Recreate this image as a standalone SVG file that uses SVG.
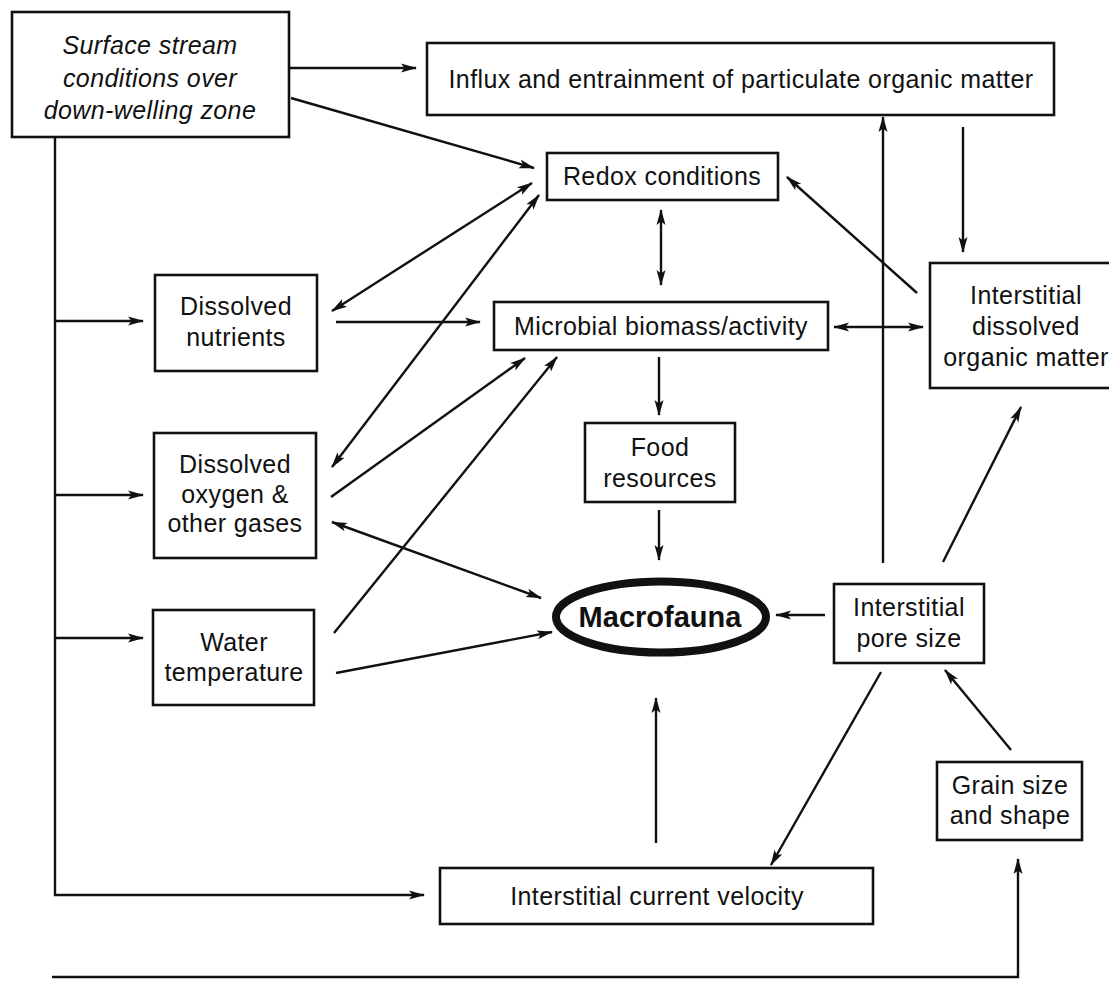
<svg xmlns="http://www.w3.org/2000/svg" width="1109" height="986" viewBox="0 0 1109 986">
<style>
.box{fill:#fff;stroke:#111;stroke-width:2.6}
.t{font-family:"Liberation Sans",Arial,sans-serif;font-size:25px;letter-spacing:0.4px;fill:#111;text-anchor:middle}
.it{font-style:italic}
.b{font-weight:bold;font-size:29px;letter-spacing:0}
.c{fill:none;stroke:#111;stroke-width:2.4}
.a{marker-end:url(#ah)}
.d{marker-start:url(#ah);marker-end:url(#ah)}
</style>
<defs>
<marker id="ah" markerUnits="userSpaceOnUse" markerWidth="18" markerHeight="12" refX="15" refY="5.5" orient="auto-start-reverse">
<path d="M0,1 L16,5.5 L0,10 L3.5,5.5 z" fill="#111"/>
</marker>
</defs>
<rect width="1109" height="986" fill="#fff"/>
<g id="connectors">
<path class="c a" d="M289,68 L416,68"/>
<path class="c a" d="M291,98 L534,168"/>
<path class="c a" d="M55,137 L55,895 L424,895"/>
<path class="c a" d="M55,321 L143,321"/>
<path class="c a" d="M55,495 L143,495"/>
<path class="c a" d="M55,638 L143,638"/>
<path class="c a" d="M336,322 L480,322"/>
<path class="c d" d="M532,183 L332,311"/>
<path class="c d" d="M539,195 L332,467"/>
<path class="c a" d="M331,497 L525,358"/>
<path class="c a" d="M334,633 L557,357"/>
<path class="c d" d="M332,522 L541,598"/>
<path class="c a" d="M336,673 L552,632"/>
<path class="c d" d="M661,210 L661,285"/>
<path class="c d" d="M834,327 L923,327"/>
<path class="c a" d="M963,127 L963,252"/>
<path class="c a" d="M917,293 L787,177"/>
<path class="c a" d="M883,563 L883,117"/>
<path class="c a" d="M659,357 L659,415"/>
<path class="c a" d="M659,510 L659,560"/>
<path class="c a" d="M825,615 L776,615"/>
<path class="c a" d="M943,562 L1021,407"/>
<path class="c a" d="M881,672 L771,865"/>
<path class="c a" d="M1011,750 L945,670"/>
<path class="c a" d="M656,843 L656,698"/>
<path class="c a" d="M52,977 L1018,977 L1018,859"/>
</g>
<g id="surface">
<rect class="box" x="12" y="12" width="277" height="125"/>
<text class="t it" x="150" y="54">Surface stream</text>
<text class="t it" x="150" y="87">conditions over</text>
<text class="t it" x="150" y="119">down-welling zone</text>
</g>
<g id="influx">
<rect class="box" x="427" y="43" width="627" height="72"/>
<text class="t" x="741" y="88">Influx and entrainment of particulate organic matter</text>
</g>
<g id="redox">
<rect class="box" x="547" y="153" width="231" height="47"/>
<text class="t" x="662" y="185">Redox conditions</text>
</g>
<g id="microbial">
<rect class="box" x="494" y="302" width="334" height="48"/>
<text class="t" x="661" y="335">Microbial biomass/activity</text>
</g>
<g id="dom">
<rect class="box" x="930" y="263" width="190" height="125"/>
<text class="t" x="1026" y="304">Interstitial</text>
<text class="t" x="1026" y="335">dissolved</text>
<text class="t" x="1026" y="366">organic matter</text>
</g>
<g id="nutrients">
<rect class="box" x="155" y="275" width="162" height="96"/>
<text class="t" x="236" y="315">Dissolved</text>
<text class="t" x="236" y="346">nutrients</text>
</g>
<g id="oxygen">
<rect class="box" x="154" y="433" width="162" height="125"/>
<text class="t" x="235" y="473">Dissolved</text>
<text class="t" x="235" y="503">oxygen &amp;</text>
<text class="t" x="235" y="532">other gases</text>
</g>
<g id="water">
<rect class="box" x="153" y="610" width="161" height="95"/>
<text class="t" x="234" y="651">Water</text>
<text class="t" x="234" y="681">temperature</text>
</g>
<g id="food">
<rect class="box" x="585" y="423" width="150" height="79"/>
<text class="t" x="660" y="456">Food</text>
<text class="t" x="660" y="487">resources</text>
</g>
<g id="macrofauna">
<ellipse cx="661" cy="617" rx="105" ry="35.5" fill="#fff" stroke="#111" stroke-width="8"/>
<text class="t b" x="660" y="627">Macrofauna</text>
</g>
<g id="pore">
<rect class="box" x="834" y="584" width="150" height="79"/>
<text class="t" x="909" y="616">Interstitial</text>
<text class="t" x="909" y="647">pore size</text>
</g>
<g id="grain">
<rect class="box" x="937" y="762" width="145" height="78"/>
<text class="t" x="1010" y="794">Grain size</text>
<text class="t" x="1010" y="824">and shape</text>
</g>
<g id="current">
<rect class="box" x="440" y="868" width="433" height="56"/>
<text class="t" x="657" y="905">Interstitial current velocity</text>
</g>
</svg>
